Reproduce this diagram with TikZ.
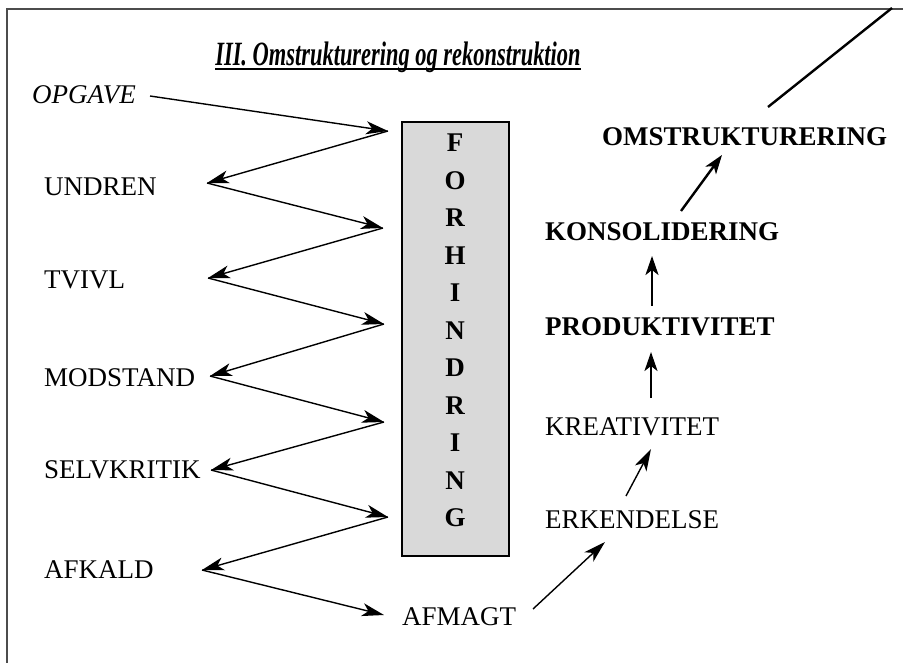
\documentclass[tikz,border=0pt]{standalone}
\usepackage{fontspec}
\setmainfont{Liberation Serif}
\usetikzlibrary{arrows.meta}

\begin{document}
\begin{tikzpicture}[x=1pt,y=-1pt,
    every node/.style={inner sep=0pt,font=\fontsize{27}{30}\selectfont},
    word/.style={anchor=west},
    strong/.style={anchor=west,font=\fontsize{27}{30}\selectfont\bfseries},
    arr/.style={-{Stealth[length=22pt,width=13pt,inset=6pt]},line width=1.4pt},
    fatarr/.style={-{Stealth[length=19pt,width=13pt,inset=5pt]},line width=2.4pt}]

    \useasboundingbox (0,0) rectangle (903,663);

    % Frame
    \draw[gray!60!black,line width=2pt] (7,663) -- (7,9) -- (903,9);

    % Title
    \node[font=\fontsize{34}{36}\selectfont\bfseries\itshape] (title) at (398,57)
      {\scalebox{0.66}[1]{III. Omstrukturering og rekonstruktion}};
    \draw[line width=1.6pt] ([yshift=-4pt]title.base west) -- ([yshift=-4pt]title.base east);

    % Left column
    \node[word,font=\fontsize{27}{30}\selectfont\itshape] (opgave) at (32,95) {OPGAVE};
    \node[word] (undren)     at (44,187) {UNDREN};
    \node[word] (tvivl)      at (44,280) {TVIVL};
    \node[word] (modstand)   at (44,378) {MODSTAND};
    \node[word] (selvkritik) at (44,470) {SELVKRITIK};
    \node[word] (afkald)     at (44,570) {AFKALD};

    % Hindrance box
    \node[draw,line width=1.2pt,fill=gray!30,minimum width=107pt,minimum height=434pt]
      (box) at (455.5,339) {};
    \foreach \ch [count=\i] in {F,O,R,H,I,N,D,R,I,N,G}
      \node[font=\fontsize{27}{30}\selectfont\bfseries] (ch\i) at (455,143+37.5*\i-37.5) {\ch};

    % Zigzag points
    \coordinate (p0)  at (150,96);
    \coordinate (p1)  at (388,131);
    \coordinate (p2)  at (207,183);
    \coordinate (p3)  at (383,228);
    \coordinate (p4)  at (208,278);
    \coordinate (p5)  at (384,324);
    \coordinate (p6)  at (210,376);
    \coordinate (p7)  at (384,422);
    \coordinate (p8)  at (211,470);
    \coordinate (p9)  at (388,517);
    \coordinate (p10) at (202,570);
    \coordinate (p11) at (384,615);

    \foreach \a/\b in {p0/p1,p1/p2,p2/p3,p3/p4,p4/p5,p5/p6,p6/p7,p7/p8,p8/p9,p9/p10,p10/p11}
      \draw[arr] (\a) -- (\b);

    % Right column
    \node[word]   (afmagt)     at (402,617) {AFMAGT};
    \node[word]   (erkendelse) at (545,520) {ERKENDELSE};
    \node[word]   (kreativ)    at (545,427) {KREATIVITET};
    \node[strong] (produktiv)  at (545,327) {PRODUKTIVITET};
    \node[strong] (konsolid)   at (545,232) {KONSOLIDERING};
    \node[strong] (omstrukt)   at (602,137) {OMSTRUKTURERING};

    \coordinate (q0) at (533,609);
    \coordinate (q1) at (605,542);
    \coordinate (q2) at (626,496);
    \coordinate (q3) at (651,449);
    \coordinate (q4) at (651,398);
    \coordinate (q5) at (651,352);
    \coordinate (q6) at (652,306);
    \coordinate (q7) at (652,256);
    \coordinate (q8) at (681,211);
    \coordinate (q9) at (722,155);

    \draw[arr] (q0) -- (q1);
    \draw[arr] (q2) -- (q3);
    \draw[fatarr] (q4) -- (q5);
    \draw[fatarr] (q6) -- (q7);
    \draw[fatarr] (q8) -- (q9);

    % Line out of the frame
    \coordinate (out0) at (768,107);
    \coordinate (out1) at (892,8);
    \draw[line width=2.4pt] (out0) -- (out1);

  \end{tikzpicture}
\end{document}
